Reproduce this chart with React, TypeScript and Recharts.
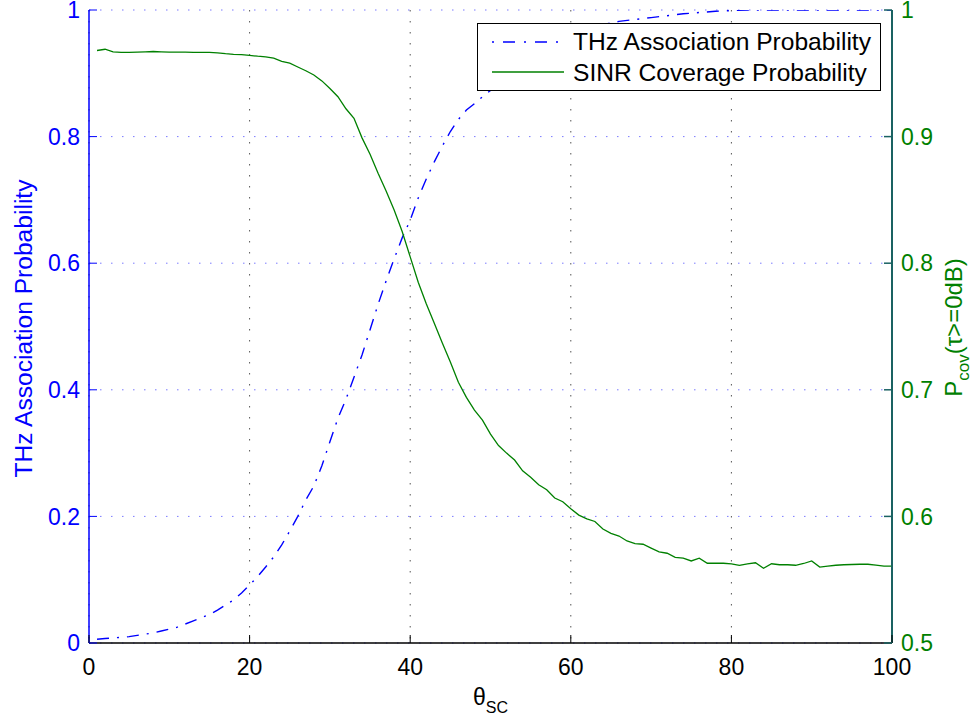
import React from "react";
import { LineChart, Line, XAxis, YAxis, CartesianGrid, Legend } from "recharts";

// ---------- data ----------
const xTicks = [0, 20, 40, 60, 80, 100];
const leftTicks = [0, 0.2, 0.4, 0.6, 0.8, 1];
const rightTicks = [0.5, 0.6, 0.7, 0.8, 0.9, 1];

const thzTheta = [
  1, 2, 3, 4, 5, 6, 7, 8, 9, 10, 11, 12, 13, 14, 15, 16, 17, 18, 19, 20,
  21, 22, 23, 24, 25, 26, 27, 28, 29, 30, 31, 32, 33, 34, 35, 36, 37, 38, 39, 40,
  41, 42, 43, 44, 45, 46, 47, 48, 49, 50, 51, 52, 53, 54, 55, 56, 57, 58, 59, 60,
  62, 64, 66, 68, 70, 72, 74, 76, 78, 80, 82, 86, 90, 95, 100,
];
const thzProb = [
  0.006, 0.007, 0.008, 0.009, 0.01, 0.012, 0.014, 0.016, 0.019, 0.022, 0.025, 0.03, 0.035, 0.04, 0.045, 0.052, 0.06, 0.068, 0.079, 0.0916,
  0.105, 0.12, 0.136, 0.155, 0.177, 0.2, 0.226, 0.248, 0.28, 0.318, 0.355, 0.385, 0.42, 0.455, 0.495, 0.535, 0.572, 0.607, 0.64, 0.668,
  0.703, 0.733, 0.76, 0.785, 0.808, 0.827, 0.842, 0.852, 0.863, 0.873, 0.885, 0.897, 0.908, 0.918, 0.927, 0.935, 0.943, 0.95, 0.956, 0.962,
  0.971, 0.977, 0.982, 0.985, 0.988, 0.991, 0.994, 0.996, 0.998, 0.999, 1.0, 1.0, 1.0, 1.0, 1.0,
];

const covTheta = [
  1, 2, 3, 4, 5, 6, 7, 8, 9, 10, 11, 12, 13, 14, 15, 16, 17, 18, 19, 20,
  21, 22, 23, 24, 25, 26, 27, 28, 29, 30, 31, 32, 33, 34, 35, 36, 37, 38, 39, 40,
  41, 42, 43, 44, 45, 46, 47, 48, 49, 50, 51, 52, 53, 54, 55, 56, 57, 58, 59, 60,
  61, 62, 63, 64, 65, 66, 67, 68, 69, 70, 71, 72, 73, 74, 75, 76, 77, 78, 79, 80,
  81, 82, 83, 84, 85, 86, 87, 88, 89, 90, 91, 92, 93, 94, 95, 96, 97, 98, 99, 100,
];
const covProb = [
  0.968, 0.969, 0.967, 0.9665, 0.9665, 0.9668, 0.967, 0.9672, 0.967, 0.9668, 0.9668, 0.9667, 0.9666, 0.9666, 0.9665, 0.9662, 0.9655, 0.965, 0.9648, 0.9642,
  0.9635, 0.963, 0.962, 0.9595, 0.958, 0.955, 0.952, 0.9487, 0.944, 0.938, 0.9315, 0.922, 0.9145, 0.899, 0.886, 0.871, 0.857, 0.842, 0.825, 0.805,
  0.785, 0.768, 0.7525, 0.737, 0.722, 0.706, 0.694, 0.684, 0.676, 0.665, 0.656, 0.65, 0.6445, 0.636, 0.631, 0.625, 0.621, 0.6145, 0.6116, 0.606,
  0.601, 0.598, 0.596, 0.59, 0.5866, 0.5845, 0.5806, 0.5785, 0.578, 0.575, 0.572, 0.5709, 0.5677, 0.567, 0.5648, 0.567, 0.563, 0.563, 0.563, 0.5625,
  0.5614, 0.5625, 0.5634, 0.559, 0.5626, 0.5618, 0.5618, 0.5614, 0.5628, 0.5648, 0.56, 0.5608, 0.5614, 0.5618, 0.562, 0.5622, 0.5622, 0.5615, 0.5608, 0.5608,
];

const thzName = "THz Association Probability";
const covName = "SINR Coverage Probability";

const thzData = thzTheta.map((t, i) => ({ theta: t, value: thzProb[i] }));
const covData = covTheta.map((t, i) => ({ theta: t, value: covProb[i] }));

// ---------- style ----------
const FONT = "'Liberation Sans', Arial, Helvetica, sans-serif";
const BLUE = "#0000ff";
const GREEN = "#008000";
const TEAL = "#1a6262";
const DASH_DOT = "12 8 2 8";

const XTickBottom = (props: any) => {
  const { x, y, payload } = props;
  return (
    <g>
      <line x1={x} x2={x} y1={y} y2={y - 8} stroke="#000" strokeWidth={1} />
      <text x={x} y={y + 32} textAnchor="middle" fontSize={23} fontFamily={FONT} fill="#000">
        {String(payload.value)}
      </text>
    </g>
  );
};

const XTickTop = (props: any) => {
  const { x, y } = props;
  return <line x1={x} x2={x} y1={y} y2={y + 8} stroke="#000" strokeWidth={1} />;
};

const YTickLeft = (props: any) => {
  const { x, y, payload } = props;
  return (
    <g>
      <line x1={x} x2={x + 8} y1={y} y2={y} stroke={BLUE} strokeWidth={1} />
      <text x={x - 9} y={y} dy="0.36em" textAnchor="end" fontSize={23} fontFamily={FONT} fill={BLUE}>
        {String(payload.value)}
      </text>
    </g>
  );
};

const YTickRight = (props: any) => {
  const { x, y, payload } = props;
  return (
    <g>
      <line x1={x} x2={x - 8} y1={y} y2={y} stroke={TEAL} strokeWidth={1.5} />
      <text x={x + 9} y={y} dy="0.36em" textAnchor="start" fontSize={23} fontFamily={FONT} fill={GREEN}>
        {String(payload.value)}
      </text>
    </g>
  );
};

const LeftLabel = (props: any) => {
  const vb = props.viewBox || { x: 0, y: 10, width: 89, height: 633 };
  const cx = vb.x + 32;
  const cy = vb.y + vb.height / 2 + 2;
  return (
    <text transform={`translate(${cx},${cy}) rotate(-90)`} textAnchor="middle" fontSize={24.6} fontFamily={FONT} fill={BLUE}>
      THz Association Probability
    </text>
  );
};

const RightLabel = (props: any) => {
  const vb = props.viewBox || { x: 892, y: 10, width: 88, height: 633 };
  const cx = vb.x + 70;
  const cy = vb.y + vb.height / 2 + 1;
  return (
    <text transform={`translate(${cx},${cy}) rotate(-90)`} textAnchor="middle" fontSize={24} fontFamily={FONT} fill={GREEN}>
      P
      <tspan fontSize={17} dy={7}>cov</tspan>
      <tspan dy={-7}>(τ&gt;=0dB)</tspan>
    </text>
  );
};

const BottomLabel = (props: any) => {
  const vb = props.viewBox || { x: 89, y: 643, width: 803, height: 78 };
  const cx = vb.x + vb.width / 2;
  return (
    <text x={cx} y={vb.y + 62} textAnchor="middle" fontSize={23} fontFamily={FONT} fill="#000">
      θ
      <tspan fontSize={16} dy={8}>SC</tspan>
    </text>
  );
};

const LegendBox = (props: any) => {
  const items = [
    { name: thzName, color: BLUE, dash: DASH_DOT },
    { name: covName, color: GREEN, dash: undefined as string | undefined },
  ];
  return (
    <div
      style={{
        width: 404,
        height: 68,
        boxSizing: "border-box",
        border: "1.5px solid #000",
        background: "#fff",
      }}
    >
      <svg width={401} height={65} style={{ display: "block" }}>
        {items.map((it, i) => (
          <g key={it.name}>
            <line
              x1={14}
              x2={86}
              y1={18 + i * 30}
              y2={18 + i * 30}
              stroke={it.color}
              strokeWidth={1.5}
              strokeDasharray={it.dash ? "2 9 12 9" : undefined}
            />
            <text x={95} y={26 + i * 31} fontSize={24.6} fontFamily={FONT} fill="#000">
              {it.name}
            </text>
          </g>
        ))}
      </svg>
    </div>
  );
};

export default function App() {
  return (
    <div style={{ position: "absolute", left: 0, top: 0, width: 980, height: 721, background: "#fff" }}>
      <LineChart width={980} height={721} margin={{ top: 10, right: 0, bottom: 0, left: 0 }}>
        <CartesianGrid yAxisId="left" vertical={false} stroke="#7a7aff" strokeDasharray="1.5 9.5" />
        <CartesianGrid yAxisId="left" horizontal={false} stroke="#555" strokeDasharray="1.5 9.5" />
        <XAxis
          dataKey="theta"
          type="number"
          domain={[0, 100]}
          ticks={xTicks}
          allowDataOverflow
          height={78}
          tickSize={0}
          tickMargin={0}
          tickLine={false}
          axisLine={{ stroke: "#000", strokeWidth: 1.5 }}
          tick={<XTickBottom />}
          label={{ content: <BottomLabel /> }}
        />
        <XAxis
          xAxisId="top"
          orientation="top"
          dataKey="theta"
          type="number"
          domain={[0, 100]}
          ticks={xTicks}
          allowDataOverflow
          height={0}
          tickSize={0}
          tickMargin={0}
          tickLine={false}
          axisLine={{ stroke: "#222", strokeWidth: 1.2 }}
          tick={<XTickTop />}
        />
        <YAxis
          yAxisId="left"
          domain={[0, 1]}
          ticks={leftTicks}
          type="number"
          allowDataOverflow
          width={89}
          tickSize={0}
          tickMargin={0}
          tickLine={false}
          axisLine={{ stroke: BLUE, strokeWidth: 1.5 }}
          tick={<YTickLeft />}
          label={{ content: <LeftLabel /> }}
        />
        <YAxis
          yAxisId="right"
          orientation="right"
          domain={[0.5, 1]}
          ticks={rightTicks}
          type="number"
          allowDataOverflow
          width={88}
          tickSize={0}
          tickMargin={0}
          tickLine={false}
          axisLine={{ stroke: TEAL, strokeWidth: 2 }}
          tick={<YTickRight />}
          label={{ content: <RightLabel /> }}
        />
        <Line
          yAxisId="left"
          data={thzData}
          dataKey="value"
          name={thzName}
          type="linear"
          stroke={BLUE}
          strokeWidth={1.4}
          strokeDasharray={DASH_DOT}
          dot={false}
          activeDot={false}
          isAnimationActive={false}
        />
        <Line
          yAxisId="right"
          data={covData}
          dataKey="value"
          name={covName}
          type="linear"
          stroke={GREEN}
          strokeWidth={1.3}
          dot={false}
          activeDot={false}
          isAnimationActive={false}
        />
        <Legend
          layout="horizontal"
          align="center"
          verticalAlign="middle"
          content={<LegendBox />}
          wrapperStyle={{ left: 477, top: 23, width: 404, height: 68 }}
        />
      </LineChart>
    </div>
  );
}
